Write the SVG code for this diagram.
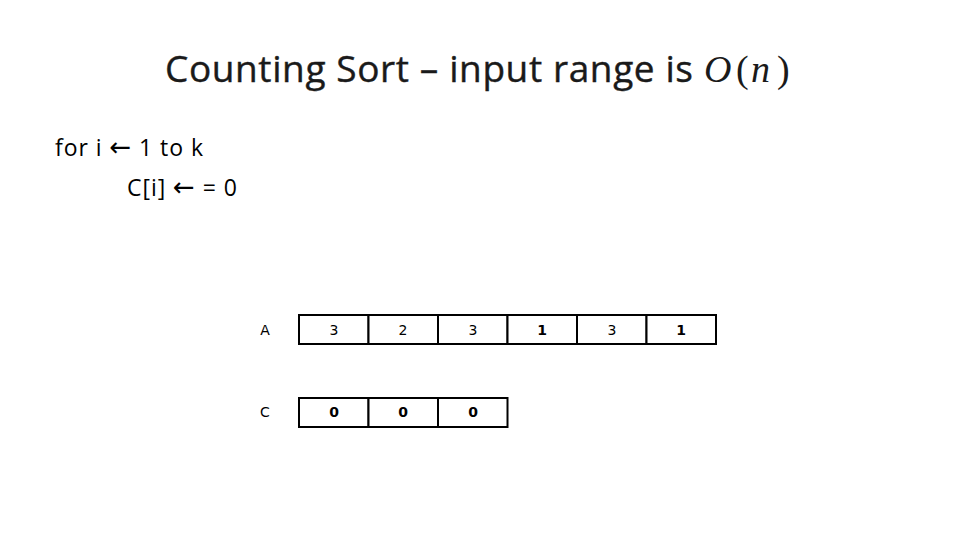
<svg xmlns="http://www.w3.org/2000/svg" width="960" height="540" viewBox="0 0 960 540">
<style>
.title{font-family:"Open Sans","Liberation Sans",sans-serif;font-size:37px;fill:#1a1a1a;stroke:#1a1a1a;stroke-width:0.4}
.math{font-family:"Liberation Serif",serif;font-style:italic;font-size:38px;fill:#1a1a1a}
.paren{font-family:"Liberation Serif",serif;font-size:38px;fill:#1a1a1a}
.code{font-family:"Open Sans","Liberation Sans",sans-serif;font-size:23px;fill:#000}
.arr{font-family:"DejaVu Sans",sans-serif;font-size:26px}
.cell{fill:#fff;stroke:#000;stroke-width:2}
.lbl{font-family:"DejaVu Sans",sans-serif;font-size:14px;fill:#000;text-anchor:middle}
.b{font-weight:bold}
</style>
<rect width="960" height="540" fill="#fff"/>
<text class="title" x="165" y="82" textLength="528">Counting Sort – input range is</text>
<text class="math" x="704" y="82">O</text>
<text class="paren" x="736" y="82">(</text>
<text class="math" x="751" y="82">n</text>
<text class="paren" x="777" y="82">)</text>
<text class="code" x="55" y="156" textLength="148">for i <tspan class="arr">←</tspan> 1 to k</text>
<text class="code" x="127" y="196" textLength="110">C[i] <tspan class="arr">←</tspan> = 0</text>
<g id="arrayA">
<text class="lbl" x="265" y="335">A</text>
<rect class="cell" x="299" y="315" width="69.5" height="29"/>
<rect class="cell" x="368.5" y="315" width="69.5" height="29"/>
<rect class="cell" x="438" y="315" width="69.5" height="29"/>
<rect class="cell" x="507.5" y="315" width="69.5" height="29"/>
<rect class="cell" x="577" y="315" width="69.5" height="29"/>
<rect class="cell" x="646.5" y="315" width="69.5" height="29"/>
<text class="lbl" x="334" y="335">3</text>
<text class="lbl" x="403" y="335">2</text>
<text class="lbl" x="473" y="335">3</text>
<text class="lbl b" x="542" y="335">1</text>
<text class="lbl" x="612" y="335">3</text>
<text class="lbl b" x="681" y="335">1</text>
</g>
<g id="arrayC">
<text class="lbl" x="265" y="417">C</text>
<rect class="cell" x="299" y="398" width="69.5" height="29"/>
<rect class="cell" x="368.5" y="398" width="69.5" height="29"/>
<rect class="cell" x="438" y="398" width="69.5" height="29"/>
<text class="lbl b" x="334" y="417">0</text>
<text class="lbl b" x="403" y="417">0</text>
<text class="lbl b" x="473" y="417">0</text>
</g>
</svg>
